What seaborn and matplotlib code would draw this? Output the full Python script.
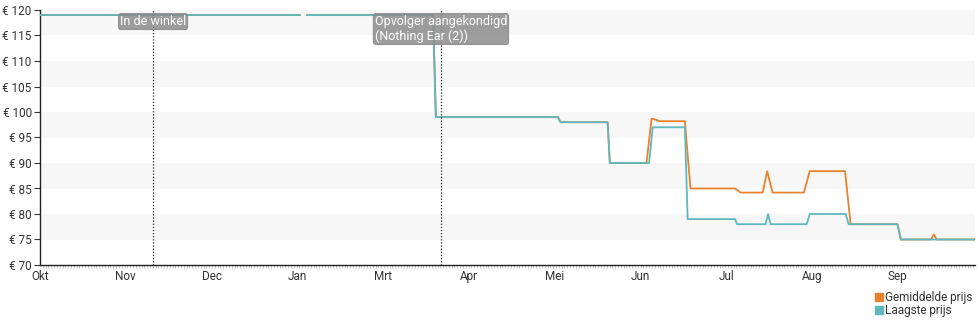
import numpy as np
import pandas as pd
import matplotlib
matplotlib.use("Agg")
import matplotlib.pyplot as plt
from matplotlib.lines import Line2D
import seaborn as sns

# ---- data (x = days since start of axis, y = price in EUR) ----
month_labels = ["Okt", "Nov", "Dec", "Jan", "Mrt", "Apr", "Mei", "Jun", "Jul", "Aug", "Sep"]
yticks_vals = [70, 75, 80, 85, 90, 95, 100, 105, 110, 115, 120]

low_seg1_x = [0, 92.2]
low_seg1_y = [119, 119]
low_seg2_x = [94.6, 139.4, 140.4, 183.7, 184.6, 201.3, 202.1, 216.0, 217.3, 228.7,
              229.7, 246.5, 247.2, 257.3, 258.2, 259.1, 271.9, 273.0, 285.7, 286.8,
              304.1, 305.3, 331.6]
low_seg2_y = [119, 119, 99, 99, 98, 98, 90, 90, 97, 97,
              79, 79, 78, 78, 80, 78, 78, 80, 80, 78,
              78, 75, 75]

avg_seg1_x = [0, 92.2]
avg_seg1_y = [119, 119]
avg_seg2_x = [94.6, 139.4, 140.4, 183.7, 184.6, 201.3, 202.1, 215.1, 216.9, 217.8,
              219.9, 228.7, 230.7, 246.5, 248.5, 256.3, 257.9, 259.8, 270.9, 273.0,
              285.5, 287.5, 304.1, 305.3, 316.0, 317.0, 318.0, 331.6]
avg_seg2_y = [119, 119, 99, 99, 98, 98, 90, 90, 98.7, 98.6,
              98.2, 98.2, 85, 85, 84.2, 84.2, 88.4, 84.2, 84.2, 88.4,
              88.4, 78, 78, 75, 75, 76, 75, 75]

events_x = [40.1, 142.2]
events_text = ["In de winkel", "Opvolger aangekondigd\n(Nothing Ear (2))"]

series_names = ["Gemiddelde prijs", "Laagste prijs"]
colors = ["#e8822e", "#5fb8bd"]

# ---- build long table ----
rows = []
for name, segs in [
    (series_names[0], [(avg_seg1_x, avg_seg1_y), (avg_seg2_x, avg_seg2_y)]),
    (series_names[1], [(low_seg1_x, low_seg1_y), (low_seg2_x, low_seg2_y)]),
]:
    for i, (xs, ys) in enumerate(segs):
        for x, y in zip(xs, ys):
            rows.append({"day": x, "prijs": y, "serie": name, "seg": f"{name}-{i}"})
df = pd.DataFrame(rows)

sns.set_style("white")
plt.rcParams["font.family"] = ["Roboto", "DejaVu Sans"]

fig = plt.figure(figsize=(9.8, 3.25), dpi=100)
ax = fig.add_axes([40 / 980, 1 - 265 / 325, 935 / 980, 255 / 325])

# alternating bands
for lo in yticks_vals[1:-1:2]:
    ax.axhspan(lo, lo + 5, color="#f7f7f7", zorder=0, lw=0)

sns.lineplot(data=df, x="day", y="prijs", hue="serie", units="seg", estimator=None,
             palette=dict(zip(series_names, colors)), hue_order=series_names,
             linewidth=1.3, legend=False, ax=ax, zorder=3)

ax.set_xlim(0, 331.6)
ax.set_ylim(70, 120)

day_per_month = 30.42
ax.set_xticks([i * day_per_month for i in range(len(month_labels))])
ax.set_xticklabels(month_labels)
ax.set_xticks(np.arange(0, 331.6, 1.0), minor=True)
ax.set_yticks(yticks_vals)
ax.set_yticklabels([f"€ {v}" for v in yticks_vals])

ax.tick_params(axis="both", which="major", labelsize=8.5, colors="#333333",
               length=4, width=0.8, pad=2)
ax.tick_params(axis="x", which="major", direction="inout", length=5, pad=1)
ax.tick_params(axis="x", which="minor", bottom=True, length=2, width=0.4, color="#999999")
ax.tick_params(axis="y", left=True)
ax.set_xlabel("")
ax.set_ylabel("")

for s in ["top", "right"]:
    ax.spines[s].set_visible(False)
for s in ["left", "bottom"]:
    ax.spines[s].set_color("#222222")
    ax.spines[s].set_linewidth(1.0)

# event lines and labels
for x, t in zip(events_x, events_text):
    ax.axvline(x, color="#222222", linestyle=(0, (1, 1.5)), linewidth=0.9, zorder=4)
    ax.text(x, 119.0, t, ha="center", va="top", color="white", fontsize=9,
            multialignment="left", linespacing=1.15, zorder=5,
            bbox=dict(boxstyle="round,pad=0.12,rounding_size=0.2", fc="#8c8c8c",
                      ec="#7a7a7a", lw=0.6, alpha=0.85))

handles = [Line2D([], [], marker="s", linestyle="", color=c, markersize=5.5) for c in colors]
fig.legend(handles, series_names, loc="lower right", bbox_to_anchor=(1.0, 0.0),
           frameon=False, fontsize=8.5, handletextpad=0.1, labelspacing=0.05,
           handlelength=0.8, borderaxespad=0.25, labelcolor="#333333")

fig.savefig("out.png", dpi=100)
